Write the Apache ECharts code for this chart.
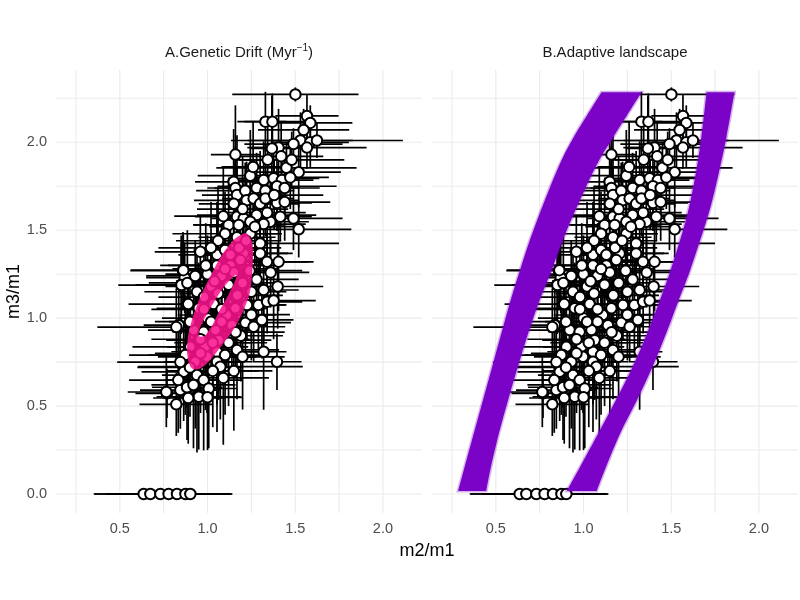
<!DOCTYPE html>
<html><head><meta charset="utf-8">
<script src="https://cdn.jsdelivr.net/npm/echarts@6/dist/echarts.min.js"></script>
<style>html,body{margin:0;padding:0;background:#fff}#c{width:800px;height:600px}</style>
</head><body><div id="c"></div>
<script>
// ---------- data ----------
const ptX = [1.501,1.33,1.37,1.567,1.586,1.548,1.53,1.586,1.624,1.49,1.567,1.405,1.367,1.159,1.343,1.45,1.52,1.244,1.32,1.377,1.424,1.472,1.149,1.159,1.168,1.215,1.28,1.33,1.396,1.223,1.263,1.30,1.33,1.396,1.44,1.168,1.206,1.28,1.358,1.415,1.49,1.52,1.12,1.178,1.244,1.32,1.10,1.168,1.244,1.30,1.405,0.959,1.054,1.10,1.206,1.30,1.339,1.054,1.13,1.187,1.00,1.08,1.15,1.24,1.02,1.12,1.20,1.28,0.94,1.06,1.17,1.25,0.95,1.035,1.11,1.159,1.225,1.29,1.34,1.377,0.836,0.921,0.978,1.045,1.064,1.139,1.216,1.263,0.902,0.988,1.054,1.10,1.168,0.883,0.93,0.997,1.054,1.073,0.864,0.94,0.978,0.769,0.845,0.883,0.95,1.007,0.822,1.396,1.32,1.00,1.08,1.19,0.96,1.12,1.03,0.90,1.25,0.86,0.85,0.87,
  0.862,0.851,0.885,0.822,0.873,0.845,0.833,0.765,0.89,0.98,1.04,1.10,1.18,1.22,1.27,1.34,1.38,1.44,1.48,1.42,1.26,1.20,1.15,1.09,1.06,1.02,0.99,1.13,1.36,1.40,1.32,1.31,1.20,1.15,1.09,1.00,0.92,0.90,0.96,1.03,1.16,1.08,0.98,0.89,0.93,1.02,
  0.636,0.674,0.731,0.778,0.826,0.874,0.902];
const ptY = [2.272,2.117,2.117,2.15,2.11,2.07,2.01,2.00,2.01,1.99,1.97,1.97,1.965,1.93,1.90,1.855,1.83,1.81,1.785,1.795,1.785,1.80,1.775,1.74,1.70,1.725,1.74,1.725,1.75,1.67,1.68,1.65,1.68,1.655,1.66,1.577,1.567,1.586,1.548,1.577,1.567,1.505,1.53,1.53,1.548,1.535,1.48,1.46,1.48,1.425,1.32,1.377,1.36,1.387,1.368,1.368,1.32,1.30,1.30,1.33,1.25,1.24,1.26,1.27,1.18,1.19,1.20,1.22,1.15,1.14,1.13,1.15,1.056,1.08,1.018,1.056,1.075,1.075,1.093,1.10,0.96,0.932,0.923,0.932,0.875,0.96,0.974,0.951,0.837,0.837,0.809,0.79,0.819,0.79,0.752,0.78,0.752,0.724,0.695,0.676,0.648,0.572,0.591,0.607,0.553,0.60,0.51,0.752,0.809,1.00,0.98,0.90,0.88,0.86,0.70,0.98,1.02,1.27,1.19,1.23,
  1.273,1.188,1.20,0.949,0.79,0.75,0.648,0.58,0.546,1.12,1.21,1.28,1.40,1.44,1.52,1.60,1.70,1.74,1.90,1.92,1.86,1.62,1.65,1.58,1.44,1.40,1.30,1.36,1.26,1.18,1.16,0.99,0.78,0.70,0.66,0.55,0.62,0.72,0.80,0.86,0.92,1.05,1.05,1.08,1.24,0.98,
  0,0,0,0,0,0,0];
const errX = [0.36,0.12,0.20,0.18,0.24,0.26,0.30,0.22,0.49,0.28,0.34,0.16,0.12,0.14,0.18,0.40,0.24,0.30,0.20,0.26,0.18,0.22,0.22,0.16,0.20,0.28,0.24,0.14,0.34,0.30,0.18,0.22,0.16,0.20,0.26,0.24,0.18,0.34,0.22,0.18,0.28,0.30,0.20,0.26,0.16,0.24,0.30,0.22,0.18,0.45,0.20,0.26,0.22,0.18,0.28,0.16,0.24,0.28,0.27,0.20,0.24,0.18,0.22,0.30,0.26,0.20,0.18,0.24,0.30,0.22,0.26,0.20,0.24,0.20,0.28,0.18,0.22,0.16,0.20,0.24,0.20,0.26,0.18,0.22,0.30,0.20,0.26,0.18,0.33,0.22,0.26,0.20,0.24,0.22,0.18,0.28,0.20,0.47,0.24,0.20,0.22,0.18,0.23,0.20,0.24,0.16,0.21,0.14,0.13,0.26,0.20,0.24,0.28,0.22,0.26,0.20,0.22,0.30,0.26,0.22,
  0.30,0.36,0.22,0.45,0.32,0.36,0.28,0.22,0.20,0.26,0.22,0.30,0.24,0.20,0.26,0.22,0.28,0.20,0.30,0.24,0.18,0.26,0.20,0.28,0.24,0.30,0.26,0.20,0.22,0.26,0.20,0.18,0.24,0.22,0.26,0.20,0.24,0.30,0.26,0.22,0.28,0.24,0.30,0.34,0.28,0.24,
  0.28,0.24,0.38,0.36,0.30,0.26,0.24];
const errY = [0.04,0.17,0.16,0.12,0.10,0.12,0.16,0.14,0.10,0.09,0.12,0.22,0.30,0.28,0.25,0.14,0.20,0.26,0.22,0.18,0.14,0.18,0.30,0.24,0.34,0.16,0.20,0.26,0.18,0.22,0.14,0.30,0.12,0.16,0.22,0.28,0.20,0.18,0.24,0.14,0.18,0.16,0.26,0.22,0.30,0.14,0.24,0.32,0.18,0.22,0.28,0.20,0.30,0.24,0.18,0.22,0.16,0.26,0.20,0.28,0.22,0.30,0.18,0.24,0.28,0.22,0.26,0.20,0.24,0.30,0.18,0.28,0.26,0.22,0.30,0.24,0.20,0.26,0.18,0.22,0.20,0.28,0.32,0.26,0.34,0.24,0.22,0.20,0.26,0.36,0.30,0.34,0.28,0.30,0.38,0.32,0.40,0.30,0.28,0.44,0.40,0.14,0.22,0.30,0.30,0.34,0.18,0.16,0.33,0.28,0.32,0.26,0.30,0.36,0.32,0.24,0.26,0.22,0.28,0.20,
  0.20,0.24,0.30,0.22,0.34,0.26,0.30,0.20,0.26,0.28,0.24,0.22,0.26,0.30,0.22,0.24,0.20,0.18,0.16,0.20,0.26,0.30,0.24,0.28,0.30,0.26,0.24,0.22,0.20,0.24,0.28,0.22,0.30,0.34,0.38,0.30,0.36,0.28,0.34,0.30,0.26,0.28,0.24,0.22,0.20,0.30,
  0,0,0,0,0,0,0];

// pink ellipse ring (panel A): outer boundary (clockwise on screen) and inner hole (counter-clockwise)
const pinkOuter = [[1.225,1.482],[1.253,1.434],[1.259,1.349],[1.253,1.235],[1.240,1.141],[1.206,1.046],[1.158,0.951],[1.091,0.857],[1.016,0.762],[0.959,0.715],[0.911,0.715],[0.886,0.781],[0.886,0.875],[0.911,0.989],[0.959,1.122],[1.025,1.255],[1.082,1.359],[1.149,1.444],[1.187,1.472]];
const pinkInner = [[1.160,1.245],[1.100,1.185],[1.045,1.105],[0.995,1.020],[0.957,0.945],[0.950,0.900],[0.975,0.895],[0.990,0.905],[1.030,0.965],[1.072,1.050],[1.120,1.135],[1.158,1.215]];

// purple bands (panel B)
const bandL_outer = [[1.103,2.285],[0.945,2.030],[0.850,1.842],[0.715,1.501],[0.638,1.273],[0.585,1.103],[0.532,0.915],[0.479,0.722],[0.427,0.534],[0.375,0.347],[0.322,0.153],[0.285,0.017]];
const bandL_inner = [[1.331,2.285],[1.170,2.030],[1.060,1.842],[0.905,1.501],[0.818,1.273],[0.750,1.103],[0.685,0.915],[0.625,0.722],[0.570,0.534],[0.518,0.347],[0.472,0.153],[0.445,0.017]];
const bandR_left = [[1.702,2.285],[1.672,2.030],[1.644,1.842],[1.607,1.654],[1.568,1.501],[1.497,1.273],[1.436,1.103],[1.364,0.915],[1.280,0.722],[1.185,0.534],[1.085,0.347],[0.980,0.153],[0.905,0.017]];
const bandR_right = [[1.861,2.285],[1.815,2.030],[1.775,1.842],[1.730,1.654],[1.684,1.501],[1.608,1.273],[1.543,1.103],[1.472,0.915],[1.393,0.722],[1.305,0.534],[1.210,0.347],[1.128,0.153],[1.075,0.017]];

const xGridLines = [0.25,0.5,0.75,1.0,1.25,1.5,1.75,2.0];
const yGridLines = [0,0.25,0.5,0.75,1.0,1.25,1.5,1.75,2.0,2.25];
const xRange = [0.136, 2.223];
const yRange = [-0.108, 2.411];

// ---------- helpers ----------
const FONT = '"Liberation Sans", Arial, Helvetica, sans-serif';
function catmull(pts, closed) {
  const n = pts.length; let d = '';
  const get = i => closed ? pts[(i + n) % n] : pts[Math.max(0, Math.min(n - 1, i))];
  const segs = closed ? n : n - 1;
  for (let i = 0; i < segs; i++) {
    const p0 = get(i - 1), p1 = get(i), p2 = get(i + 1), p3 = get(i + 2);
    const c1 = [p1[0] + (p2[0] - p0[0]) / 6, p1[1] + (p2[1] - p0[1]) / 6];
    const c2 = [p2[0] - (p3[0] - p1[0]) / 6, p2[1] - (p3[1] - p1[1]) / 6];
    d += ' C' + c1[0] + ' ' + c1[1] + ' ' + c2[0] + ' ' + c2[1] + ' ' + p2[0] + ' ' + p2[1];
  }
  return d;
}
function ringPath(api, outer, inner) {
  const o = outer.map(p => api.coord(p)), h = inner.map(p => api.coord(p));
  return 'M' + o[0][0] + ' ' + o[0][1] + catmull(o, true) + ' Z M' + h[0][0] + ' ' + h[0][1] + catmull(h, true) + ' Z';
}
function bandPath(api, a, b) {
  const A = a.map(p => api.coord(p)), B = b.slice().reverse().map(p => api.coord(p));
  return 'M' + A[0][0] + ' ' + A[0][1] + catmull(A, false) + ' L' + B[0][0] + ' ' + B[0][1] + catmull(B, false) + ' Z';
}

const points = ptX.map((x, i) => [x, ptY[i], errX[i], errY[i]]);

function gridSeries(g) {
  return [{
    type: 'custom', xAxisIndex: g, yAxisIndex: g, z: 1, silent: true, animation: false,
    data: xGridLines.map(v => [v, 1]),
    renderItem: (params, api) => {
      const cs = params.coordSys; const x = api.coord([api.value(0), 1])[0];
      return { type: 'line', shape: { x1: x, y1: cs.y, x2: x, y2: cs.y + cs.height }, style: { stroke: '#ebebeb', lineWidth: 1.1 } };
    }
  }, {
    type: 'custom', xAxisIndex: g, yAxisIndex: g, z: 1, silent: true, animation: false,
    data: yGridLines.map(v => [1, v]),
    renderItem: (params, api) => {
      const cs = params.coordSys; const y = api.coord([1, api.value(1)])[1];
      return { type: 'line', shape: { x1: cs.x, y1: y, x2: cs.x + cs.width, y2: y }, style: { stroke: '#ebebeb', lineWidth: 1.1 } };
    }
  }, {
    type: 'custom', xAxisIndex: g, yAxisIndex: g, z: 2, silent: true, animation: false,
    data: points, encode: { x: 0, y: 1 },
    renderItem: (params, api) => {
      const x = api.value(0), y = api.value(1), ex = api.value(2), ey = api.value(3);
      const ch = [];
      const st = { stroke: '#000', lineWidth: 1.7 };
      if (ex > 0) { const a = api.coord([x - ex, y]), b = api.coord([x + ex, y]); ch.push({ type: 'line', shape: { x1: a[0], y1: a[1], x2: b[0], y2: b[1] }, style: st }); }
      if (ey > 0) { const a = api.coord([x, y - ey]), b = api.coord([x, y + ey]); ch.push({ type: 'line', shape: { x1: a[0], y1: a[1], x2: b[0], y2: b[1] }, style: st }); }
      return { type: 'group', children: ch };
    }
  }, {
    type: 'scatter', xAxisIndex: g, yAxisIndex: g, z: 3, silent: true, animation: false,
    data: points.map(p => [p[0], p[1]]), symbol: 'circle', symbolSize: 10.5,
    itemStyle: { color: '#ffffff', borderColor: '#000000', borderWidth: 2, opacity: 1 }
  }];
}

const series = [].concat(gridSeries(0), gridSeries(1));
series.push({
  type: 'custom', xAxisIndex: 0, yAxisIndex: 0, z: 4, silent: true, animation: false,
  data: [pinkOuter[0]],
  renderItem: (params, api) => ({ type: 'path', shape: { pathData: ringPath(api, pinkOuter, pinkInner) },
    style: { fill: 'rgba(250,18,140,0.87)' } })
});
[[bandL_outer, bandL_inner], [bandR_left, bandR_right]].forEach(pair => {
  series.push({
    type: 'custom', xAxisIndex: 1, yAxisIndex: 1, z: 4, silent: true, animation: false,
    data: [pair[0][0]],
    renderItem: (params, api) => ({ type: 'path', shape: { pathData: bandPath(api, pair[0], pair[1]) },
      style: { fill: '#7b03c7', stroke: 'rgba(123,3,199,0.3)', lineWidth: 3 } })
  });
});

const xAxisCommon = {
  type: 'value', min: xRange[0], max: xRange[1], splitNumber: 5,
  axisLine: { show: false }, axisTick: { show: false }, splitLine: { show: false },
  axisLabel: { color: '#4d4d4d', fontSize: 14.5, fontFamily: FONT, margin: 8, showMinLabel: false, showMaxLabel: false,
    formatter: v => v.toFixed(1) }
};
const yAxisCommon = {
  type: 'value', min: yRange[0], max: yRange[1], splitNumber: 5,
  axisLine: { show: false }, axisTick: { show: false }, splitLine: { show: false },
  axisLabel: { color: '#4d4d4d', fontSize: 14.5, fontFamily: FONT, margin: 9, showMinLabel: false, showMaxLabel: false,
    formatter: v => v.toFixed(1) }
};

const chart = echarts.init(document.getElementById('c'), null, { renderer: 'canvas' });
chart.setOption({
  backgroundColor: '#ffffff',
  animation: false,
  title: [
    { text: 'A.Genetic Drift (Myr{s|−1})', left: 239, top: 43, textAlign: 'center', padding: 0,
      textStyle: { fontFamily: FONT, fontSize: 15, fontWeight: 'normal', color: '#1a1a1a', lineHeight: 19,
        rich: { s: { fontFamily: FONT, fontSize: 10, color: '#1a1a1a', verticalAlign: 'top', lineHeight: 11 } } } },
    { text: 'B.Adaptive landscape', left: 615, top: 43, textAlign: 'center', padding: 0,
      textStyle: { fontFamily: FONT, fontSize: 15, fontWeight: 'normal', color: '#1a1a1a', lineHeight: 19 } },
    { text: 'm2/m1', left: 427, top: 541, textAlign: 'center', padding: 0,
      textStyle: { fontFamily: FONT, fontSize: 18, fontWeight: 'normal', color: '#000000', lineHeight: 20 } }
  ],
  grid: [
    { left: 56, top: 70, width: 366, height: 443 },
    { left: 432, top: 70, width: 366, height: 443 }
  ],
  xAxis: [Object.assign({ gridIndex: 0 }, xAxisCommon), Object.assign({ gridIndex: 1 }, xAxisCommon)],
  yAxis: [
    Object.assign({ gridIndex: 0, name: 'm3/m1', nameLocation: 'middle', nameRotate: 90, nameGap: 33,
      nameTextStyle: { fontFamily: FONT, fontSize: 18, color: '#000000' } }, yAxisCommon),
    Object.assign({ gridIndex: 1 }, yAxisCommon, { axisLabel: { show: false } })
  ],
  series: series
});
</script>
</body></html>
